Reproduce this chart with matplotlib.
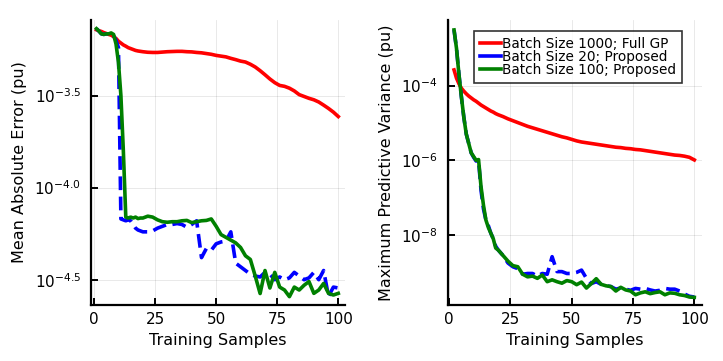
import numpy as np
import matplotlib
matplotlib.use("Agg")
import matplotlib.pyplot as plt
from matplotlib.ticker import FixedLocator, NullLocator, FixedFormatter

# data (log10 of the plotted quantity)
x_mae = list(range(1, 21)) + list(range(22, 101, 2))
mae_full = [-3.143, -3.148, -3.152, -3.158, -3.163, -3.168, -3.172, -3.18, -3.19, -3.205,
            -3.215, -3.225, -3.232, -3.24, -3.245, -3.25, -3.255, -3.258, -3.26, -3.262,
            -3.265, -3.266, -3.266, -3.264, -3.262, -3.261, -3.26, -3.26, -3.262, -3.263,
            -3.266, -3.268, -3.272, -3.276, -3.282, -3.286, -3.29, -3.298, -3.305, -3.313,
            -3.318, -3.33, -3.345, -3.365, -3.387, -3.41, -3.43, -3.445, -3.45, -3.46,
            -3.475, -3.495, -3.505, -3.515, -3.523, -3.535, -3.552, -3.57, -3.59, -3.614]
mae_b20 = [-3.137, -3.15, -3.165, -3.168, -3.165, -3.165, -3.165, -3.175, -3.20, -3.24,
           -4.17, -4.175, -4.18, -4.175, -4.18, -4.20, -4.22, -4.23, -4.235, -4.24,
           -4.24, -4.235, -4.22, -4.21, -4.20, -4.20, -4.195, -4.20, -4.215, -4.20,
           -4.18, -4.38, -4.33, -4.34, -4.305, -4.295, -4.29, -4.24, -4.41, -4.43,
           -4.45, -4.47, -4.48, -4.485, -4.46, -4.47, -4.50, -4.485, -4.50, -4.49,
           -4.46, -4.48, -4.50, -4.49, -4.46, -4.50, -4.45, -4.59, -4.54, -4.545]
mae_b100 = [-3.137, -3.15, -3.165, -3.168, -3.165, -3.165, -3.16, -3.168, -3.22, -3.32,
            -3.50, -3.80, -4.16, -4.165, -4.16, -4.165, -4.16, -4.168, -4.165, -4.165,
            -4.155, -4.16, -4.175, -4.185, -4.188, -4.185, -4.185, -4.18, -4.178, -4.19,
            -4.185, -4.18, -4.178, -4.17, -4.21, -4.255, -4.27, -4.285, -4.30, -4.325,
            -4.37, -4.39, -4.48, -4.575, -4.45, -4.545, -4.46, -4.54, -4.556, -4.592,
            -4.54, -4.556, -4.53, -4.51, -4.574, -4.556, -4.52, -4.574, -4.583, -4.574]

x_var = list(range(2, 21)) + list(range(22, 101, 2))
var_full = [-3.58, -3.80, -3.95, -4.07, -4.15, -4.22, -4.28, -4.33, -4.38, -4.42,
            -4.47, -4.52, -4.56, -4.60, -4.64, -4.68, -4.71, -4.75, -4.78,
            -4.83, -4.89, -4.94, -4.99, -5.04, -5.09, -5.13, -5.17, -5.21, -5.25,
            -5.29, -5.33, -5.37, -5.40, -5.44, -5.48, -5.51, -5.53, -5.55, -5.57,
            -5.59, -5.61, -5.63, -5.65, -5.66, -5.68, -5.69, -5.71, -5.72, -5.74,
            -5.76, -5.78, -5.80, -5.82, -5.84, -5.86, -5.87, -5.89, -5.92, -5.99]
var_b20 = [-2.51, -3.0, -3.7, -4.3, -4.85, -5.3, -5.55, -5.8, -5.92, -6.02,
           -6.0, -6.8, -7.3, -7.6, -7.75, -7.95, -8.1, -8.3, -8.4,
           -8.55, -8.75, -8.85, -8.9, -9.05, -9.03, -9.03, -9.1, -9.03, -9.05,
           -8.58, -8.98, -8.98, -9.03, -9.03, -9.0, -8.94, -9.16, -9.3, -9.25,
           -9.32, -9.36, -9.38, -9.45, -9.42, -9.45, -9.48, -9.43, -9.45, -9.43,
           -9.47, -9.5, -9.48, -9.43, -9.45, -9.45, -9.5, -9.58, -9.64, -9.66]
var_b100 = [-2.51, -3.0, -3.7, -4.3, -4.85, -5.3, -5.55, -5.8, -5.9, -6.0,
            -5.98, -6.7, -7.2, -7.6, -7.8, -7.95, -8.1, -8.35, -8.4,
            -8.55, -8.7, -8.82, -8.85, -9.05, -9.12, -9.1, -9.16, -9.07, -9.25,
            -9.2, -9.25, -9.29, -9.22, -9.25, -9.33, -9.26, -9.42, -9.3, -9.17,
            -9.32, -9.36, -9.38, -9.5, -9.4, -9.47, -9.5, -9.6, -9.55, -9.52,
            -9.57, -9.54, -9.52, -9.6, -9.55, -9.56, -9.6, -9.62, -9.66, -9.67]

labels = ["Batch Size 1000; Full GP", "Batch Size 20; Proposed", "Batch Size 100; Proposed"]
mae_ticks = [-3.5, -4.0, -4.5]
mae_tick_labels = [r"$10^{-3.5}$", r"$10^{-4.0}$", r"$10^{-4.5}$"]
var_ticks = [-4, -6, -8]
var_tick_labels = [r"$10^{-4}$", r"$10^{-6}$", r"$10^{-8}$"]
x_ticks = [0, 25, 50, 75, 100]

plt.rcParams["font.family"] = ["DejaVu Sans"]
fig = plt.figure(figsize=(7.23, 3.61), dpi=100)
ax1 = fig.add_axes([0.1255, 0.155, 0.3515, 0.79])
ax2 = fig.add_axes([0.619, 0.155, 0.3515, 0.79])


def style(ax, yt, ylabels):
    ax.set_yscale("log")
    for s in ["top", "right"]:
        ax.spines[s].set_visible(False)
    for s in ["left", "bottom"]:
        ax.spines[s].set_linewidth(1.6)
    ax.yaxis.set_major_locator(FixedLocator([10.0 ** t for t in yt]))
    ax.yaxis.set_major_formatter(FixedFormatter(ylabels))
    ax.yaxis.set_minor_locator(NullLocator())
    ax.set_xticks(x_ticks)
    ax.tick_params(direction="in", length=5, width=1.4, labelsize=11)
    ax.tick_params(axis="y", pad=7)
    ax.tick_params(axis="x", pad=5)
    ax.grid(True, color="#000000", alpha=0.1, linewidth=0.6)
    ax.set_xlabel("Training Samples", fontsize=11.5, labelpad=4)


ax1.plot(x_mae, 10.0 ** np.array(mae_full), color="red", lw=2.6, label=labels[0])
ax1.plot(x_mae, 10.0 ** np.array(mae_b20), color="blue", lw=2.6, ls=(0, (3.8, 1.8)), label=labels[1])
ax1.plot(x_mae, 10.0 ** np.array(mae_b100), color="green", lw=2.6, label=labels[2])
style(ax1, mae_ticks, mae_tick_labels)
ax1.set_xlim(-1.35, 102.7)
ax1.set_ylim(10 ** -4.6375, 10 ** -3.089)
ax1.set_ylabel("Mean Absolute Error (pu)", fontsize=11.5, labelpad=5)

ax2.plot(x_var, 10.0 ** np.array(var_full), color="red", lw=2.6, label=labels[0])
ax2.plot(x_var, 10.0 ** np.array(var_b20), color="blue", lw=2.6, ls=(0, (3.8, 1.8)), label=labels[1])
ax2.plot(x_var, 10.0 ** np.array(var_b100), color="green", lw=2.6, label=labels[2])
style(ax2, var_ticks, var_tick_labels)
ax2.set_xlim(-0.65, 103.0)
ax2.set_ylim(10 ** -9.875, 10 ** -2.24)
ax2.set_ylabel("Maximum Predictive Variance (pu)", fontsize=11.5, labelpad=5)

leg = ax2.legend(loc="upper left", bbox_to_anchor=(0.104, 0.962), fontsize=9.8, frameon=True,
                 fancybox=False, edgecolor="black", handlelength=1.5, handletextpad=0.1,
                 borderpad=0.45, labelspacing=-0.06, borderaxespad=0)
leg.get_frame().set_linewidth(1.2)
for h in leg.get_lines():
    h.set_linestyle("-")

fig.savefig("out.png", dpi=100)
